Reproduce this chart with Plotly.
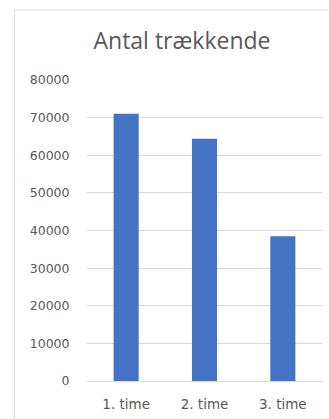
import plotly.graph_objects as go

categories = ["1. time", "2. time", "3. time"]
values = [71000, 64400, 38500]
title_text = "Antal trækkende"

W, H = 329, 419
L, R, T, B = 87, 7, 80, 36
pw = W - L - R
ph = H - T - B

fig = go.Figure(go.Bar(x=categories, y=values, marker=dict(color="#4472c4", line=dict(width=0)), width=0.32))

def px2x(px):
    return (px - L) / pw

def py2y(py):
    return (H - B - py) / ph

grey = "#d9d9d9"
shapes = [
    dict(type="line", xref="paper", yref="paper", x0=px2x(14), x1=px2x(340), y0=py2y(9.5), y1=py2y(9.5), line=dict(color=grey, width=1)),
    dict(type="line", xref="paper", yref="paper", x0=px2x(14.5), x1=px2x(14.5), y0=py2y(9), y1=py2y(430), line=dict(color=grey, width=1)),
]

fig.update_layout(
    width=W, height=H,
    margin=dict(l=L, r=R, t=T, b=B),
    paper_bgcolor="white", plot_bgcolor="white",
    showlegend=False,
    title=dict(text=title_text, x=182 / W, xanchor="center", xref="container",
               y=1 - 41 / H, yanchor="middle", yref="container",
               font=dict(family="Open Sans", size=23, color="#595959")),
    font=dict(family="DejaVu Sans", size=11, color="#595959"),
    shapes=shapes,
    bargap=0.68,
)
fig.update_yaxes(range=[0, 80000], dtick=10000, tickformat="d", showgrid=True, gridcolor=grey, gridwidth=1,
                 zeroline=True, zerolinecolor=grey, zerolinewidth=1, showline=False,
                 ticks="outside", ticklen=14, tickcolor="rgba(0,0,0,0)",
                 tickfont=dict(family="DejaVu Sans", size=12.5, color="#595959"), fixedrange=True)
fig.update_xaxes(showgrid=False, showline=False, ticks="outside", ticklen=11, tickcolor="rgba(0,0,0,0)",
                 tickfont=dict(family="DejaVu Sans", size=13.5, color="#595959"))

fig.write_html("out.html")
